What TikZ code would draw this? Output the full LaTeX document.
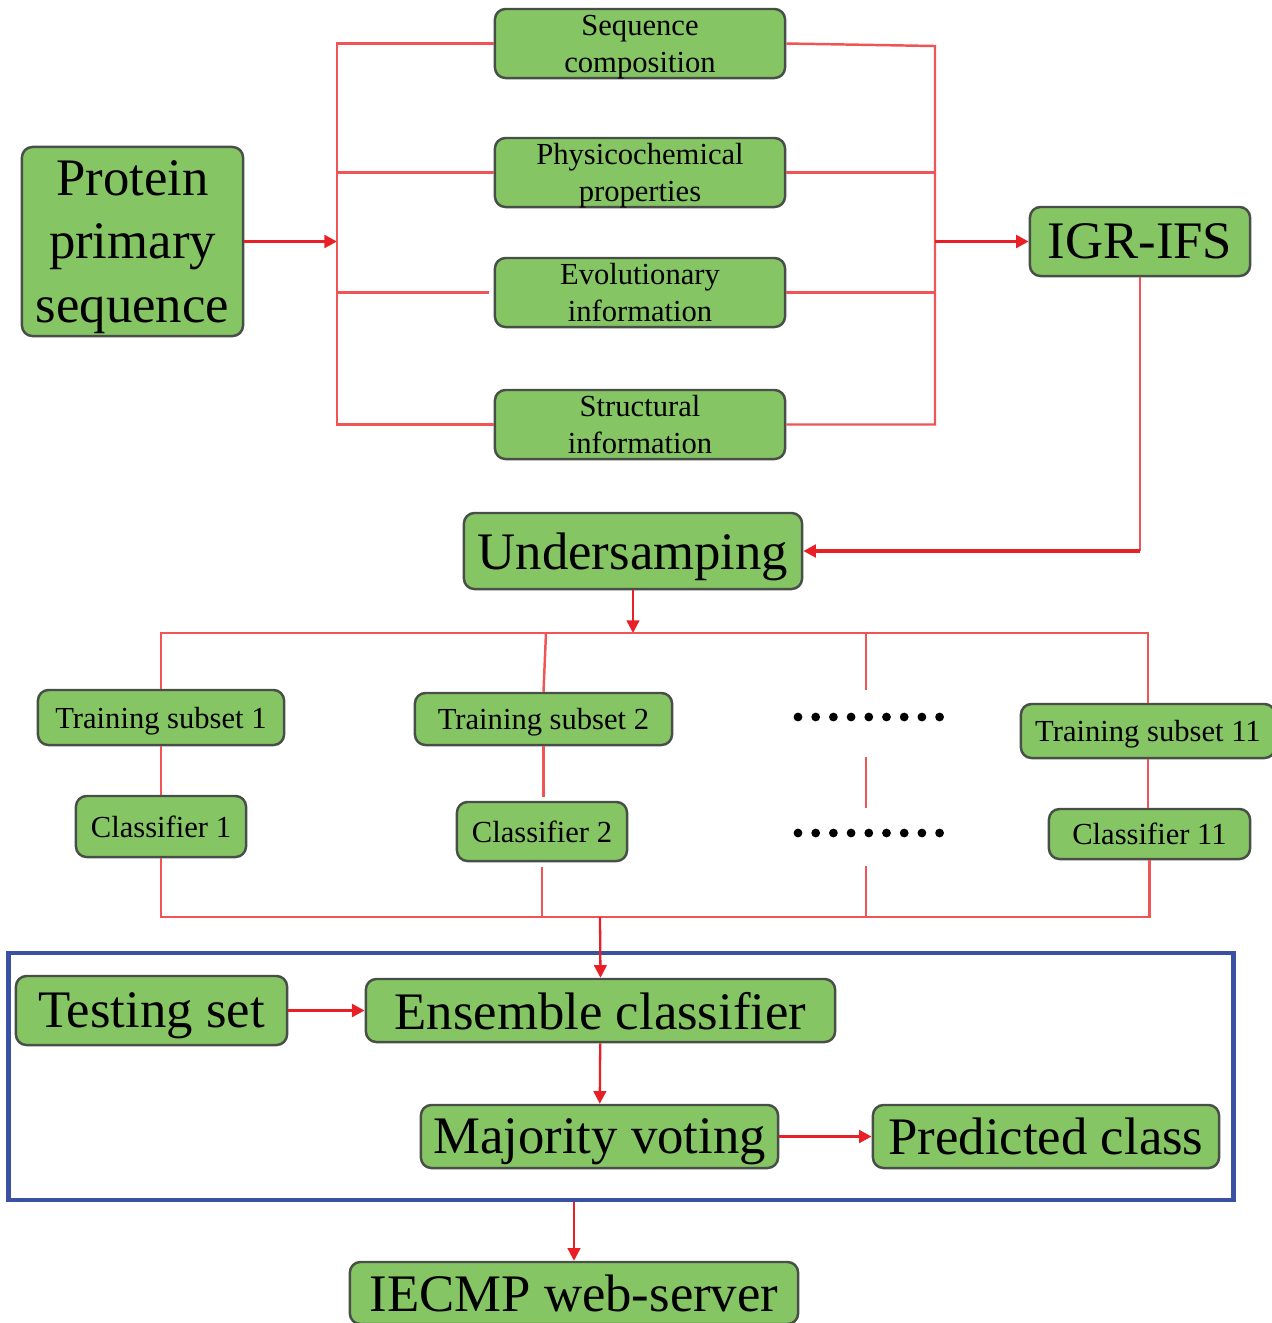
\documentclass[tikz,border=0pt]{standalone}
\usepackage{fontspec}
\setmainfont{Liberation Serif}
\usetikzlibrary{arrows.meta,positioning}
\definecolor{boxgreen}{RGB}{134,197,99}
\definecolor{boxedge}{RGB}{72,78,72}
\definecolor{busred}{RGB}{240,84,84}
\definecolor{arrred}{RGB}{232,32,38}
\definecolor{frameblue}{RGB}{58,80,162}
\newcommand{\bigtxt}{\fontsize{15}{18}\selectfont}
\newcommand{\smalltxt}{\fontsize{8.7}{10.5}\selectfont}

\begin{document}
\begin{tikzpicture}[x=0.01cm, y=-0.01cm,
    box/.style={draw=boxedge, fill=boxgreen, line width=0.7pt, rounded corners=3pt, align=center, inner sep=0pt, text depth=0pt},
    bigbox/.style={box, font=\bigtxt},
    smallbox/.style={box, font=\smalltxt},
    bus/.style={draw=busred, line width=0.7pt},
    arr/.style={draw=arrred, line width=0.9pt, -{Triangle[length=3.6pt, width=3.6pt]}},
    thinarr/.style={arr, line width=0.65pt}]
\useasboundingbox (0,0) rectangle (1272,1323);

% input and features
\node[bigbox, minimum width=2.21cm, minimum height=1.89cm] (protein) at (132.5,241.5) {Protein\\primary\\sequence};
\node[smallbox, minimum width=2.9cm, minimum height=0.69cm] (seqcomp) at (640,43.5) {Sequence\\composition};
\node[smallbox, minimum width=2.9cm, minimum height=0.69cm] (physchem) at (640,172.5) {Physicochemical\\properties};
\node[smallbox, minimum width=2.9cm, minimum height=0.69cm] (evoinfo) at (640,292.5) {Evolutionary\\information};
\node[smallbox, minimum width=2.9cm, minimum height=0.69cm] (strinfo) at (640,424.5) {Structural\\information};
\node[bigbox, minimum width=2.2cm, minimum height=0.69cm] (igrifs) at (1140,241.5) {IGR-IFS};
\node[bigbox, minimum width=3.38cm, minimum height=0.76cm] (undersamp) at (633,551) {Undersamping};

% training subsets and classifiers
\node[smallbox, minimum width=2.46cm, minimum height=0.55cm] (ts1) at (161,717.5) {Training subset 1};
\node[smallbox, minimum width=2.57cm, minimum height=0.52cm] (ts2) at (543.5,719) {Training subset 2};
\node[smallbox, minimum width=2.54cm, minimum height=0.54cm] (ts11) at (1148,731) {Training subset 11};
\node[smallbox, minimum width=1.70cm, minimum height=0.61cm] (cls1) at (161,826.5) {Classifier 1};
\node[smallbox, minimum width=1.70cm, minimum height=0.59cm] (cls2) at (542,831.5) {Classifier 2};
\node[smallbox, minimum width=2.01cm, minimum height=0.50cm] (cls11) at (1149.5,834) {Classifier 11};

% ensemble part
\node[draw=frameblue, line width=1.3pt, minimum width=12.24cm, minimum height=2.47cm, inner sep=0pt] (evalframe) at (621,1076.5) {};
\node[bigbox, minimum width=2.71cm, minimum height=0.69cm] (testset) at (151.5,1010.5) {Testing set};
\node[bigbox, minimum width=4.69cm, minimum height=0.63cm] (ensemble) at (600.5,1010.5) {Ensemble classifier};
\node[bigbox, minimum width=3.57cm, minimum height=0.63cm] (majvote) at (599.5,1136.5) {Majority voting};
\node[bigbox, minimum width=3.46cm, minimum height=0.63cm] (predclass) at (1046,1136.5) {Predicted class};
\node[bigbox, minimum width=4.48cm, minimum height=0.62cm] (webserver) at (574,1293) {IECMP web-server};

% bus points
\coordinate (lbus) at (337,241.5);
\coordinate (rbus) at (935,241.5);
\coordinate (igrturn) at (1140,551);
\coordinate (topbus) at (633,633);
\coordinate (midcol) at (866,633);
\coordinate (botbus) at (600,917);

% feature buses
\draw[arr] (protein) -- (lbus);
\draw[bus] (seqcomp.west) -- (seqcomp.west -| lbus) -- (strinfo.west -| lbus) -- (strinfo.west);
\draw[bus] (physchem.west) -- (physchem.west -| lbus);
\draw[bus] (evoinfo.west) ++(-5,0) -- (evoinfo.west -| lbus);
\draw[bus] (seqcomp.east) -- (rbus |- 0,46) -- (rbus |- strinfo.east) -- (strinfo.east);
\draw[bus] (physchem.east) -- (physchem.east -| rbus);
\draw[bus] (evoinfo.east) -- (evoinfo.east -| rbus);
\draw[arr] (rbus) -- (igrifs.west);
\draw[bus] (igrifs.south) -- (igrturn);
\draw[arr] (igrturn) -- (undersamp.east);

% subsets
\draw[thinarr] (undersamp.south) -- (topbus);
\draw[bus] (ts1.north) -- (ts1.north |- topbus) -- (ts11.north |- topbus) -- (ts11.north);
\draw[bus] (546,633) -- (ts2.north);
\draw[bus] (ts1.south) -- (cls1.north);
\draw[bus] (ts2.south) -- (ts2.south |- 0,797);
\draw[bus] (ts11.south) -- (ts11.south |- cls11.north);
\draw[bus] (midcol) -- ++(0,57);
\draw[bus] (midcol) ++(0,124) -- ++(0,51);
\draw[bus] (midcol) ++(0,233) -- (midcol |- botbus);
\foreach \i in {0,...,8} {
  \fill (798+17.7*\i,717) circle (1.25pt);
  \fill (798+17.7*\i,833) circle (1.25pt);
}
\draw[bus] (cls1.south) -- (cls1.south |- botbus) -- (cls11.south |- botbus) -- (cls11.south);
\draw[bus] (cls2.south) ++(0,5) -- (cls2.south |- botbus);

% ensemble
\draw[thinarr] (botbus) -- (ensemble.north);
\draw[arr] (testset) -- (ensemble);
\draw[thinarr] (ensemble) -- (majvote);
\draw[arr] (majvote) -- (predclass);
\draw[thinarr] (webserver.north |- evalframe.south) -- (webserver.north);
\end{tikzpicture}
\end{document}
